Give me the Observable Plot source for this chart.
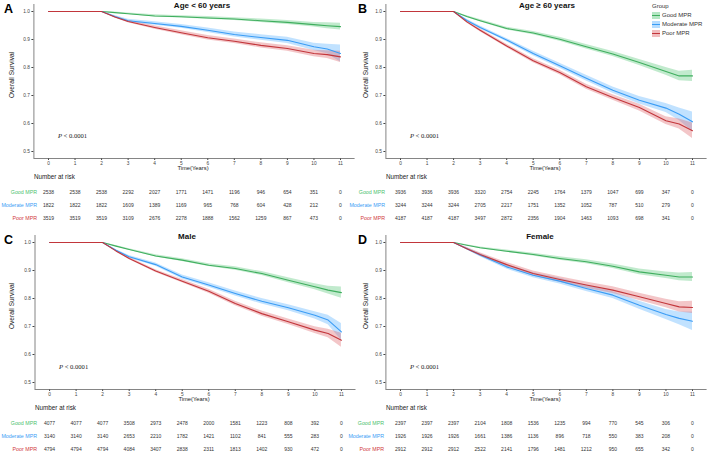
<!DOCTYPE html>
<html>
<head>
<meta charset="utf-8">
<script src="https://cdn.jsdelivr.net/npm/d3@7"></script>
<script src="https://cdn.jsdelivr.net/npm/@observablehq/plot@0.6"></script>
<style>
  html, body { margin: 0; padding: 0; background: #fff; }
  #wrap { position: relative; width: 709px; height: 454px; overflow: hidden; font-family: "Liberation Sans", Arial, sans-serif; }
  .abs { position: absolute; white-space: nowrap; line-height: 1; }
  .letter { font-weight: bold; font-size: 12.5px; color: #000; }
  .title { font-weight: bold; font-size: 8px; color: #111; transform: translate(-50%, -50%); }
  .ylab { font-size: 6.6px; color: #222; transform: translate(-50%, -50%) rotate(-90deg); }
  .xlab { font-size: 5.8px; color: #222; transform: translate(-50%, -50%); }
  .pval { font-family: "Liberation Serif", "Times New Roman", serif; font-size: 6.6px; color: #222; transform: translateY(-50%); }
  .nrisk { font-size: 6.3px; color: #222; transform: translateY(-50%); }
  .leg { font-size: 6px; color: #333; }
  svg { position: absolute; overflow: visible; }
</style>
</head>
<body>
<div id="wrap"></div>
<script>
// ---------- shared definitions ----------
const groups = ["Good MPR", "Moderate MPR", "Poor MPR"];
const lineColors = ["#3fae5e", "#3a9cf5", "#c2363b"];
const bandColors = ["#5cc97c", "#5cb2ff", "#e06a6e"];
const labelColors = ["#4cbf6e", "#3a9cf5", "#d0383c"];
const years = [0, 1, 2, 2.5, 3, 4, 5, 6, 7, 8, 9, 10, 10.5, 11];
const tickYears = [0, 1, 2, 3, 4, 5, 6, 7, 8, 9, 10, 11];
const yTicks = [0.5, 0.6, 0.7, 0.8, 0.9, 1.0];
const xDomain = [-0.55, 11.55];
const yDomain = [0.475, 1.025];

// ---------- Panel A: Age < 60 years ----------
const aGoodSurv = [1, 1, 1, 0.996, 0.992, 0.984, 0.981, 0.977, 0.973, 0.967, 0.961, 0.953, 0.949, 0.946];
const aGoodCI   = [0, 0, 0, 0.002, 0.003, 0.004, 0.004, 0.005, 0.005, 0.006, 0.007, 0.008, 0.011, 0.012];
const aModSurv  = [1, 1, 1, 0.982, 0.967, 0.957, 0.947, 0.933, 0.918, 0.907, 0.897, 0.874, 0.866, 0.850];
const aModCI    = [0, 0, 0, 0.004, 0.005, 0.006, 0.007, 0.008, 0.009, 0.010, 0.011, 0.013, 0.017, 0.030];
const aPoorSurv = [1, 1, 1, 0.980, 0.964, 0.943, 0.924, 0.906, 0.894, 0.879, 0.868, 0.850, 0.846, 0.838];
const aPoorCI   = [0, 0, 0, 0.003, 0.004, 0.006, 0.007, 0.008, 0.008, 0.009, 0.010, 0.012, 0.014, 0.020];
const aGoodRisk = [2538, 2538, 2538, 2292, 2027, 1771, 1471, 1196, 946, 654, 351, 0];
const aModRisk  = [1822, 1822, 1822, 1609, 1389, 1169, 965, 768, 604, 428, 212, 0];
const aPoorRisk = [3519, 3519, 3519, 3109, 2676, 2278, 1888, 1562, 1259, 867, 473, 0];

// ---------- Panel B: Age >= 60 years ----------
const bGoodSurv = [1, 1, 1, 0.982, 0.967, 0.939, 0.923, 0.901, 0.874, 0.848, 0.818, 0.786, 0.770, 0.770];
const bGoodCI   = [0, 0, 0, 0.003, 0.004, 0.005, 0.006, 0.007, 0.008, 0.009, 0.011, 0.014, 0.017, 0.020];
const bModSurv  = [1, 1, 1, 0.968, 0.943, 0.898, 0.850, 0.806, 0.762, 0.719, 0.683, 0.655, 0.633, 0.606];
const bModCI    = [0, 0, 0, 0.004, 0.005, 0.006, 0.008, 0.009, 0.010, 0.011, 0.013, 0.016, 0.022, 0.035];
const bPoorSurv = [1, 1, 1, 0.963, 0.933, 0.877, 0.824, 0.782, 0.731, 0.693, 0.657, 0.610, 0.598, 0.574];
const bPoorCI   = [0, 0, 0, 0.004, 0.005, 0.006, 0.007, 0.008, 0.009, 0.010, 0.012, 0.014, 0.018, 0.028];
const bGoodRisk = [3936, 3936, 3936, 3320, 2754, 2245, 1764, 1379, 1047, 699, 347, 0];
const bModRisk  = [3244, 3244, 3244, 2705, 2217, 1751, 1352, 1052, 787, 510, 279, 0];
const bPoorRisk = [4187, 4187, 4187, 3497, 2872, 2356, 1904, 1463, 1093, 698, 341, 0];

// ---------- Panel C: Male ----------
const cGoodSurv = [1, 1, 1, 0.987, 0.975, 0.952, 0.937, 0.919, 0.907, 0.889, 0.865, 0.842, 0.830, 0.821];
const cGoodCI   = [0, 0, 0, 0.002, 0.003, 0.004, 0.005, 0.005, 0.006, 0.007, 0.009, 0.011, 0.014, 0.020];
const cModSurv  = [1, 1, 1, 0.972, 0.949, 0.921, 0.877, 0.848, 0.818, 0.790, 0.767, 0.740, 0.723, 0.681];
const cModCI    = [0, 0, 0, 0.003, 0.005, 0.006, 0.007, 0.008, 0.009, 0.010, 0.011, 0.013, 0.017, 0.030];
const cPoorSurv = [1, 1, 1, 0.970, 0.943, 0.898, 0.862, 0.826, 0.782, 0.746, 0.717, 0.687, 0.675, 0.651];
const cPoorCI   = [0, 0, 0, 0.003, 0.004, 0.005, 0.006, 0.007, 0.008, 0.009, 0.010, 0.012, 0.015, 0.025];
const cGoodRisk = [4077, 4077, 4077, 3508, 2973, 2478, 2000, 1581, 1223, 808, 392, 0];
const cModRisk  = [3140, 3140, 3140, 2653, 2210, 1782, 1421, 1102, 841, 555, 283, 0];
const cPoorRisk = [4794, 4794, 4794, 4084, 3407, 2838, 2311, 1813, 1402, 930, 472, 0];

// ---------- Panel D: Female ----------
const dGoodSurv = [1, 1, 1, 0.990, 0.981, 0.969, 0.957, 0.943, 0.931, 0.915, 0.895, 0.883, 0.877, 0.877];
const dGoodCI   = [0, 0, 0, 0.002, 0.003, 0.004, 0.005, 0.006, 0.007, 0.008, 0.010, 0.012, 0.014, 0.016];
const dModSurv  = [1, 1, 1, 0.978, 0.955, 0.913, 0.883, 0.862, 0.836, 0.812, 0.776, 0.743, 0.729, 0.719];
const dModCI    = [0, 0, 0, 0.004, 0.006, 0.008, 0.009, 0.010, 0.011, 0.012, 0.014, 0.018, 0.023, 0.033];
const dPoorSurv = [1, 1, 1, 0.978, 0.957, 0.921, 0.889, 0.868, 0.848, 0.830, 0.806, 0.782, 0.770, 0.768];
const dPoorCI   = [0, 0, 0, 0.004, 0.006, 0.008, 0.009, 0.010, 0.011, 0.012, 0.013, 0.015, 0.018, 0.022];
const dGoodRisk = [2397, 2397, 2397, 2104, 1808, 1536, 1235, 994, 770, 545, 306, 0];
const dModRisk  = [1926, 1926, 1926, 1661, 1386, 1136, 896, 718, 550, 383, 208, 0];
const dPoorRisk = [2912, 2912, 2912, 2522, 2141, 1796, 1481, 1212, 950, 655, 342, 0];

const panels = [
  { letter: "A", title: "Age < 60 years", ox: 0, oy: 0, xr: [33.4, 354.6], titleX: 202, labEnd: 36.5,
    surv: [aGoodSurv, aModSurv, aPoorSurv], ci: [aGoodCI, aModCI, aPoorCI], risk: [aGoodRisk, aModRisk, aPoorRisk] },
  { letter: "B", title: "Age \u2265 60 years", ox: 354, oy: 0, xr: [31.4, 352.6], titleX: 193, labEnd: 30.5, legend: true,
    surv: [bGoodSurv, bModSurv, bPoorSurv], ci: [bGoodCI, bModCI, bPoorCI], risk: [bGoodRisk, bModRisk, bPoorRisk] },
  { letter: "C", title: "Male", ox: 0, oy: 231, xr: [34.5, 355.5], titleX: 187, labEnd: 36.5,
    surv: [cGoodSurv, cModSurv, cPoorSurv], ci: [cGoodCI, cModCI, cPoorCI], risk: [cGoodRisk, cModRisk, cPoorRisk] },
  { letter: "D", title: "Female", ox: 354, oy: 231, xr: [31.4, 352.6], titleX: 186, labEnd: 29.5,
    surv: [dGoodSurv, dModSurv, dPoorSurv], ci: [dGoodCI, dModCI, dPoorCI], risk: [dGoodRisk, dModRisk, dPoorRisk] }
];

const wrap = document.getElementById("wrap");
function addDiv(cls, html, left, top) {
  const d = document.createElement("div");
  d.className = "abs " + cls;
  d.innerHTML = html;
  d.style.left = left + "px";
  d.style.top = top + "px";
  wrap.appendChild(d);
  return d;
}
function place(svg, left, top) {
  svg.style.left = left + "px";
  svg.style.top = top + "px";
  wrap.appendChild(svg);
}

const W = 355, H = 174, MB = 16, MT = 4;
const yBottomPx = H - MB;

for (const p of panels) {
  // curve data
  const rows = [];
  groups.forEach((g, i) => {
    years.forEach((t, j) => {
      rows.push({ t, g, s: p.surv[i][j], lo: p.surv[i][j] - p.ci[i][j], hi: p.surv[i][j] + p.ci[i][j] });
    });
  });
  const curve = Plot.plot({
    width: W, height: H,
    marginLeft: p.xr[0], marginRight: W - p.xr[1], marginTop: MT, marginBottom: MB,
    style: { fontFamily: "Liberation Sans, Arial, sans-serif", fontSize: "4.8px", color: "#444", background: "transparent", overflow: "visible" },
    x: { domain: xDomain, range: p.xr, ticks: tickYears, tickSize: 2, tickPadding: 1, label: null, tickFormat: d3.format("d") },
    y: { domain: yDomain, range: [yBottomPx, MT], ticks: yTicks, tickSize: 2, tickPadding: 2, label: null, tickFormat: d3.format(".1f") },
    color: { domain: groups, range: lineColors },
    marks: [
      Plot.areaY(rows, { x: "t", y1: "lo", y2: "hi", z: "g", fill: d => bandColors[groups.indexOf(d.g)], fillOpacity: 0.38 }),
      Plot.lineY(rows, { x: "t", y: "s", z: "g", stroke: "g", strokeWidth: 1.1 }),
      Plot.ruleX([xDomain[0]], { stroke: "#666", strokeWidth: 0.8 }),
      Plot.ruleY([yDomain[0]], { stroke: "#666", strokeWidth: 0.8 })
    ]
  });
  place(curve, p.ox, p.oy);

  // risk table
  const riskRows = [];
  groups.forEach((g, i) => tickYears.forEach((t, j) => riskRows.push({ t, g, n: p.risk[i][j] })));
  const table = Plot.plot({
    width: W, height: 44,
    marginLeft: 0, marginRight: 0, marginTop: 0, marginBottom: 0,
    style: { fontFamily: "Liberation Sans, Arial, sans-serif", fontSize: "5px", background: "transparent", overflow: "visible" },
    x: { domain: xDomain, range: p.xr, axis: null },
    y: { type: "point", domain: groups, range: [12, 38], padding: 0, axis: null },
    marks: [
      Plot.text(riskRows, { x: "t", y: "g", text: d => String(d.n), fill: "#333" }),
      Plot.text(groups, { y: d => d, text: d => d, fill: d => labelColors[groups.indexOf(d)], frameAnchor: "left", textAnchor: "end", dx: p.labEnd, fontSize: 5.3 })
    ]
  });
  place(table, p.ox, p.oy + 180);

  // free text
  addDiv("letter", p.letter, p.ox + 4, p.oy + 3);
  addDiv("title", p.title, p.ox + p.titleX, p.oy + 5.5);
  addDiv("ylab", "Overall Survival", p.ox + 12, p.oy + 75);
  addDiv("xlab", "Time(Years)", p.ox + (p.xr[0] + p.xr[1]) / 2 - 1, p.oy + 168.5);
  addDiv("pval", "<i>P</i> &lt; 0.0001", p.ox + p.xr[0] + 24.5, p.oy + 135.5);
  addDiv("nrisk", "Number at risk", p.ox + p.xr[0] + 0.5, p.oy + 177);

  if (p.legend) {
    const lx = p.ox + 298, ly = p.oy + 3;
    addDiv("leg", "Group", lx, ly);
    groups.forEach((g, i) => {
      const yy = ly + 12 + i * 9;
      const sw = document.createElement("div");
      sw.className = "abs";
      sw.style.left = lx + "px"; sw.style.top = (yy - 3.5) + "px";
      sw.style.width = "8px"; sw.style.height = "7px";
      sw.style.background = bandColors[i]; sw.style.opacity = "0.45";
      wrap.appendChild(sw);
      const ln = document.createElement("div");
      ln.className = "abs";
      ln.style.left = lx + "px"; ln.style.top = (yy - 0.5) + "px";
      ln.style.width = "8px"; ln.style.height = "1.2px";
      ln.style.background = lineColors[i];
      wrap.appendChild(ln);
      const t = addDiv("leg", g, lx + 10, yy - 3);
    });
  }
}
</script>
</body>
</html>
